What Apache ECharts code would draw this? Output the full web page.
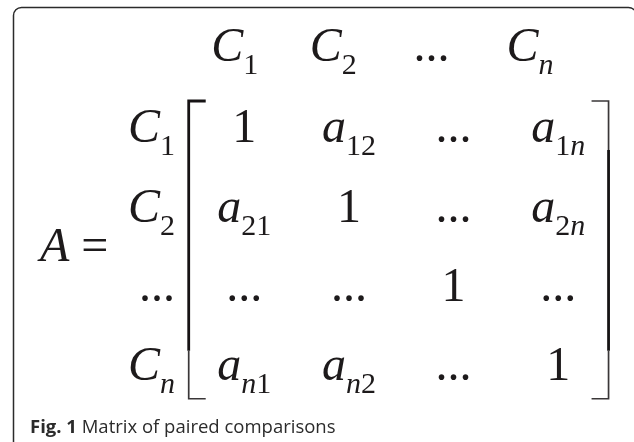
<!DOCTYPE html>
<html>
<head>
<meta charset="utf-8">
<title>Matrix of paired comparisons</title>
<script src="https://cdn.jsdelivr.net/npm/echarts@6/dist/echarts.min.js"></script>
<style>
  html, body { margin: 0; padding: 0; background: #fff; }
  #chart { width: 634px; height: 442px; }
</style>
</head>
<body>
<div id="chart"></div>
<script type="text/javascript">
// matrix content, "_" starts a subscript
var colLabels = ['C_1', 'C_2', '...', 'C_n'];
var rowLabels = ['C_1', 'C_2', '...', 'C_n'];
var matrix = [
  ['1',    'a_12', '...', 'a_1n'],
  ['a_21', '1',    '...', 'a_2n'],
  ['...',  '...',  '1',   '...'],
  ['a_n1', 'a_n2', '...', '1']
];
var lhs = 'A =';
var captionHead = 'Fig. 1';
var captionText = 'Matrix of paired comparisons';

var SERIF = '"Liberation Serif", "Times New Roman", serif';
var INK = '#1d1a1b';
var MAIN = 48, SUB = 30, SUB_DROP = 12;
var MID = 0.32; // em-middle above baseline

var ctx = document.createElement('canvas').getContext('2d');
function fontOf(r) { return (r.italic ? 'italic ' : '') + r.size + 'px ' + SERIF; }

// split "a_1n" into runs: letters italic, digits/signs upright
function runsOf(str) {
  var parts = str.split('_');
  var runs = [];
  function push(s, size, dy) {
    for (var i = 0; i < s.length; i++) {
      var ch = s.charAt(i);
      var it = /[A-Za-z]/.test(ch);
      var last = runs[runs.length - 1];
      if (last && last.italic === it && last.size === size) last.text += ch;
      else runs.push({ text: ch, italic: it, size: size, dy: dy });
    }
  }
  push(parts[0], MAIN, 0);
  if (parts[1]) push(parts[1], SUB, SUB_DROP);
  runs.forEach(function (r) { ctx.font = fontOf(r); r.w = ctx.measureText(r.text).width; });
  return runs;
}

function textSeries(items, align) {
  return {
    type: 'custom',
    coordinateSystem: 'cartesian2d',
    data: items.map(function (d) { return [d.x, d.y]; }),
    renderItem: function (params, api) {
      var p = api.coord([api.value(0), api.value(1)]);
      var runs = runsOf(items[params.dataIndex].text);
      var total = 0;
      runs.forEach(function (r) { total += r.w; });
      var x = align === 'center' ? p[0] - total / 2 : (align === 'right' ? p[0] - total : p[0]);
      var children = [];
      runs.forEach(function (r) {
        children.push({
          type: 'text',
          style: {
            text: r.text, x: x, y: p[1] + r.dy - MID * r.size,
            font: fontOf(r), fill: INK,
            align: 'left', verticalAlign: 'middle',
            textAlign: 'left', textVerticalAlign: 'middle'
          }
        });
        x += r.w;
      });
      return { type: 'group', children: children };
    }
  };
}

var cells = [];
matrix.forEach(function (row, j) {
  row.forEach(function (t, i) { cells.push({ x: i, y: j, text: t }); });
});
var header = colLabels.map(function (t, i) { return { x: -0.09 + 0.94 * i, y: -1.03, text: t }; });
var side = rowLabels.map(function (t, j) { return { x: -0.66, y: j, text: t }; });

// square brackets, thin hook pieces + heavy extension like the typeset original
function bracketSeries() {
  return {
    type: 'custom',
    coordinateSystem: 'cartesian2d',
    data: [[-0.53, 1], [3.48, -1]],
    renderItem: function (params, api) {
      var dir = api.value(1);
      var top = api.coord([api.value(0), -0.555]);
      var bot = api.coord([api.value(0), 3.2]);
      var x = top[0], hook = 17 * dir;
      var y1 = top[1], y2 = bot[1];
      var thick = { stroke: '#161314', lineWidth: 2.8, fill: 'none' };
      var thin = { stroke: '#3a3738', lineWidth: 1.7, fill: 'none' };
      return {
        type: 'group',
        children: [
          { type: 'polyline', shape: { points: [[x + hook, y1], [x, y1], [x, y1 + 49]] }, style: dir > 0 ? thick : thin },
          { type: 'line', shape: { x1: x, y1: y1 + 49, x2: x, y2: y2 - 48 }, style: thick },
          { type: 'polyline', shape: { points: [[x, y2 - 48], [x, y2], [x + hook, y2]] }, style: thin }
        ]
      };
    }
  };
}

var chart = echarts.init(document.getElementById('chart'));
chart.setOption({
  animation: false,
  backgroundColor: '#fff',
  grid: { left: 34.8, width: 523.5, top: 26.05, height: 396.5 },
  xAxis: { type: 'value', min: -2, max: 3, show: false },
  yAxis: { type: 'value', min: -1.5, max: 3.5, inverse: true, show: false },
  graphic: [
    {
      type: 'rect', silent: true,
      shape: { x: 13.5, y: 7.5, width: 623, height: 470, r: 8 },
      style: { fill: 'none', stroke: '#2b2b2b', lineWidth: 1.5 }
    },
    {
      type: 'text', left: 30, top: 418,
      style: {
        text: '{b|' + captionHead + '} ' + captionText,
        fontFamily: 'Open Sans', fontSize: 18.5, fill: '#2b2b2b',
        rich: { b: { fontWeight: 'bold', fontFamily: 'Open Sans', fontSize: 18.5, fill: '#2b2b2b' } }
      }
    }
  ],
  series: [
    textSeries(header, 'center'),
    textSeries(side, 'right'),
    textSeries(cells, 'center'),
    textSeries([{ x: -1.95, y: 1.5, text: lhs }], 'left'),
    bracketSeries()
  ]
});
</script>
</body>
</html>
